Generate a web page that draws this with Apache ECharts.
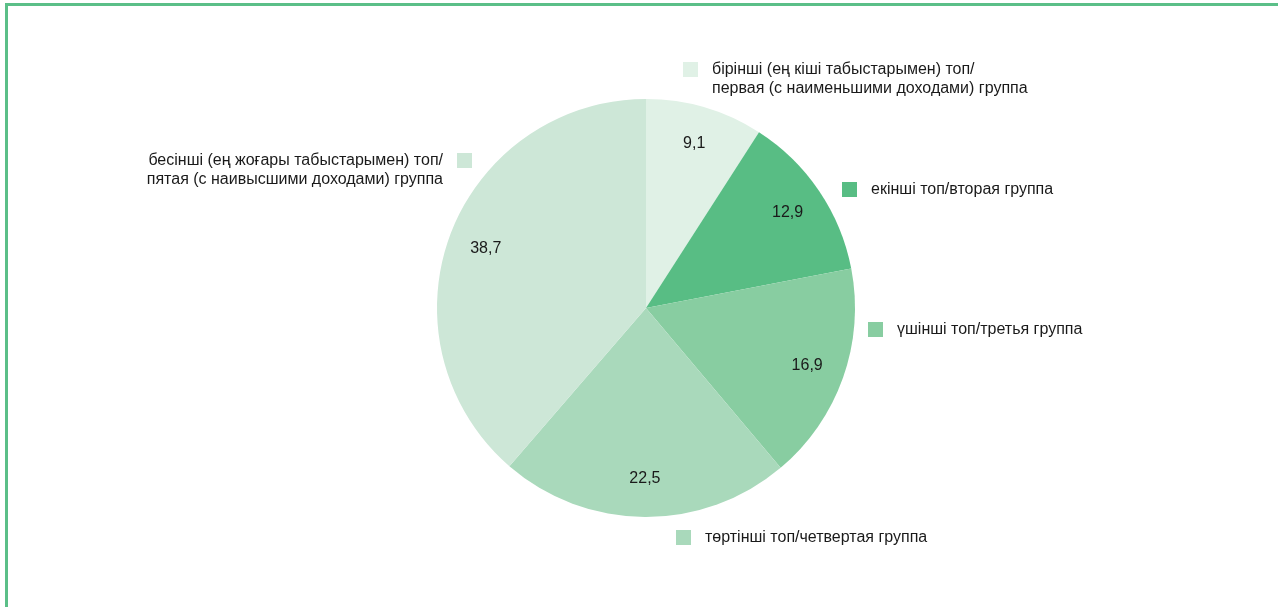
<!DOCTYPE html>
<html lang="ru">

<head>
    <meta charset="utf-8">
    <title>Группы по доходам</title>
    <script src="https://cdn.jsdelivr.net/npm/echarts@6/dist/echarts.min.js"></script>
    <style>
        html, body { margin: 0; padding: 0; background: #fff; }
        #main { position: absolute; left: 0; top: 0; width: 1278px; height: 607px; }
        .frame {
            position: absolute; left: 5px; top: 3px; right: 0; bottom: 0;
            border-left: 3px solid #5bbf88; border-top: 3px solid #5bbf88;
            pointer-events: none;
        }
    </style>
</head>

<body>
    <div id="main"></div>
    <div class="frame"></div>
    <script>
        // группы населения (каз./рус.)
        var groupNames = [
            'бірінші (ең кіші табыстарымен) топ/\nпервая (с наименьшими доходами) группа',
            'екінші топ/вторая группа',
            'үшінші топ/третья группа',
            'төртінші топ/четвертая группа',
            'бесінші (ең жоғары табыстарымен) топ/\nпятая (с наивысшими доходами) группа'
        ];
        var shares = [9.1, 12.9, 16.9, 22.5, 38.7];
        var colors = ['#e0f1e6', '#58bd84', '#88cda1', '#a9d9bb', '#cde7d7'];

        var font = 'Liberation Sans, Arial, sans-serif';

        var pieData = groupNames.map(function (n, i) {
            return { name: n, value: shares[i], itemStyle: { color: colors[i] } };
        });
        var labelData = shares.map(function (v, i) {
            return { name: 'l' + i, value: v };
        });

        // where each legend item sits (one legend per slice)
        var legendPos = [
            { left: 683, top: 41, align: 'left' },
            { left: 842, top: 180, align: 'left' },
            { left: 868, top: 320, align: 'left' },
            { left: 676, top: 528, align: 'left' },
            { right: 806, top: 132, align: 'right' }
        ];

        var legends = groupNames.map(function (n, i) {
            var p = legendPos[i];
            var twoLines = n.indexOf('\n') >= 0;
            var lg = {
                data: [n],
                top: p.top,
                orient: 'vertical',
                align: p.align,
                padding: 0,
                itemWidth: 15,
                itemHeight: 15,
                icon: 'rect',
                selectedMode: false,
                // empty first line keeps the square beside the first text line
                formatter: function (name) { return twoLines ? '\n' + name : name; },
                textStyle: {
                    fontFamily: font,
                    fontSize: 16,
                    lineHeight: 19,
                    color: '#1a1a1a',
                    padding: [0, p.align === 'right' ? 9 : 0, 0, p.align === 'left' ? 9 : 0]
                }
            };
            if (p.left != null) lg.left = p.left; else lg.right = p.right;
            return lg;
        });

        var myChart = echarts.init(document.getElementById('main'));
        myChart.setOption({
            animation: false,
            legend: legends,
            series: [
                {
                    type: 'pie',
                    center: [646, 308],
                    radius: [0, 209],
                    startAngle: 90,
                    clockwise: true,
                    label: { show: false },
                    labelLine: { show: false },
                    emphasis: { disabled: true },
                    data: pieData
                },
                {
                    // value labels only
                    type: 'pie',
                    center: [646, 308],
                    radius: [146, 190],
                    startAngle: 90,
                    clockwise: true,
                    silent: true,
                    itemStyle: { color: 'rgba(0,0,0,0)' },
                    label: {
                        show: true,
                        position: 'inside',
                        fontFamily: font,
                        fontSize: 16,
                        color: '#1a1a1a',
                        formatter: function (p) {
                            return String(p.value).replace('.', ',');
                        }
                    },
                    labelLine: { show: false },
                    emphasis: { disabled: true },
                    data: labelData
                }
            ]
        });
        window.onresize = myChart.resize;
    </script>
</body>

</html>
